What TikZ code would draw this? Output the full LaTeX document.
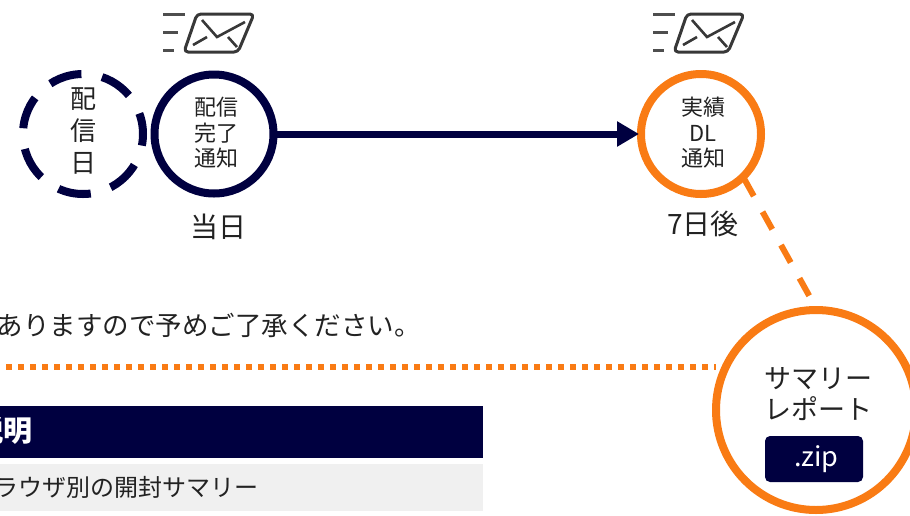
\documentclass[tikz,border=0pt]{standalone}
\usepackage{fontspec}
\setmainfont{Noto Sans CJK JP}
\usetikzlibrary{arrows.meta}
\definecolor{navy}{HTML}{000040}
\definecolor{accent}{HTML}{F97B14}
\definecolor{ink}{HTML}{222222}
\definecolor{rowgray}{HTML}{F0F0F0}

\begin{document}
\begin{tikzpicture}[x=1pt,y=-1pt]
\tikzset{circ/.style={circle,draw,line width=8pt,inner sep=0pt,outer sep=2pt,minimum size=120pt},
small/.style={font=\fontsize{22}{25.5}\selectfont,text=ink,align=center,inner sep=0pt},
big/.style={font=\fontsize{28}{32}\selectfont,text=ink,align=center,inner sep=0pt},
mailicon/.pic={
\draw[line width=3pt,ink!90,rounded corners=4pt,line join=round] (197,14) -- (254,14) -- (238,52) -- (184,52) -- cycle;
\draw[line width=2.6pt,ink!90] (202,20) -- (217,37) -- (245,22) (193,45) -- (207,37) (228,37) -- (237,47);
\draw[line width=3pt,ink!80] (163,14) -- (185,14) (163,32) -- (178,32) (163,50) -- (174,50);
}}
\useasboundingbox (0,0) rectangle (910,515);
\pic {mailicon};
\pic at (490,0) {mailicon};
\node[circ,draw=navy,dash pattern=on 33pt off 20.9pt,dash phase=12pt] (day) at (83,134) {};
\node[big,font=\fontsize{26}{32}\selectfont] (daytext) at (83,131) {配\\信\\日};
\node[circ,draw=navy,minimum size=119pt] (sent) at (214,134) {};
\node[small] (senttext) at (216,133) {配信\\完了\\通知};
\node[circ,draw=accent] (dl) at (701,134) {};
\node[small] (dltext) at (703,133) {実績\\DL\\通知};
\node[big] (today) at (218,227) {当日};
\node[big] (later) at (703,224) {7日後};
\draw[navy,line width=7pt,-{Triangle[length=22pt,width=24pt]}] (sent) -- (dl);
\node[font=\fontsize{26.5}{30}\selectfont,text=ink,anchor=east,inner sep=0pt] (note) at (421,325) {ありますので予めご了承ください。};
\coordinate (rulestart) at (6,367);
\coordinate (ruleend) at (716,367);
\draw[accent,line width=6pt,dash pattern=on 6pt off 6pt] (rulestart) -- (ruleend);
\node[circ,draw=accent,fill=white,minimum size=200pt] (report) at (816,410) {};
\draw[accent,line width=6pt,dash pattern=on 20pt off 18pt] (dl.-46) -- (report.north);
\node[big,font=\fontsize{27}{31}\selectfont] (title) at (818,394) {サマリー\\レポート};
\node[fill=navy,text=white,rounded corners=5pt,minimum width=98pt,minimum height=46pt,inner sep=0pt,font=\fontsize{27}{31}\selectfont] (zip) at (814,459) {\,.zip};
\node[fill=navy,minimum height=52pt,minimum width=493pt,anchor=north east,inner sep=0pt] (head) at (483,406) {};
\node[fill=rowgray,minimum height=47pt,minimum width=493pt,anchor=north east,inner sep=0pt] (row) at (483,464) {};
\node[font=\fontsize{29}{32}\selectfont\bfseries,text=white,anchor=east,inner sep=0pt] (headtext) at (33,431) {説明};
\node[font=\fontsize{24}{28}\selectfont,text=ink,anchor=east,inner sep=0pt] (rowtext) at (259,487) {ラウザ別の開封サマリー};
\end{tikzpicture}
\end{document}
